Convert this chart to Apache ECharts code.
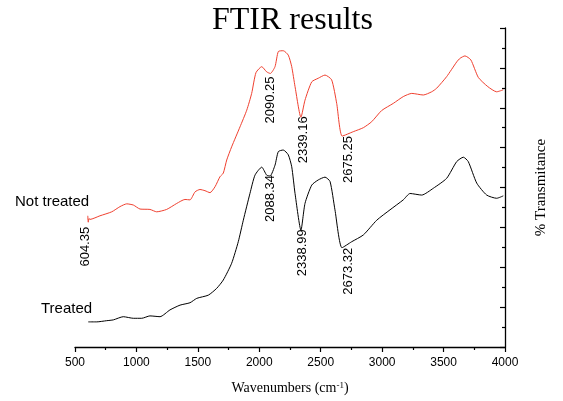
<!DOCTYPE html>
<html>
<head>
<meta charset="utf-8">
<title>FTIR results</title>
<script src="https://cdn.jsdelivr.net/npm/echarts@6/dist/echarts.min.js"></script>
<style>
  html, body { margin: 0; padding: 0; background: #fff; }
  #ftir_chart { width: 563px; height: 401px; }
</style>
</head>
<body>
<div id="ftir_chart"></div>
<script>
// 横轴刻度 (cm-1)
var xTicks = [500, 1000, 1500, 2000, 2500, 3000, 3500, 4000];

// 未处理样品 [波数, 透过率]
var notTreated = [
  [604, 32.9], [608, 31.3], [614, 32.2], [622, 32.0], [703, 32.9], [799, 33.9],
  [866, 35.2], [921, 35.9], [975, 35.6], [1029, 34.6], [1110, 34.5], [1165, 33.9],
  [1246, 34.5], [1328, 36.0], [1395, 37.0], [1436, 36.9], [1477, 38.9], [1517, 39.5],
  [1558, 39.2], [1599, 38.7], [1640, 40.2], [1680, 42.7], [1707, 43.6], [1735, 46.9],
  [1775, 50.2], [1843, 55.2], [1898, 59.4], [1938, 63.6], [1973, 68.8], [2020, 70.3],
  [2060, 69.0], [2090, 68.6], [2128, 70.3], [2155, 74.1], [2195, 74.3], [2236, 73.2],
  [2264, 70.3], [2291, 65.3], [2339, 57.6], [2372, 61.9], [2427, 66.5], [2480, 67.4],
  [2535, 68.2], [2589, 67.0], [2630, 61.1], [2675, 52.9], [2765, 54.0], [2847, 55.0],
  [2915, 56.5], [2996, 59.3], [3091, 61.1], [3172, 62.8], [3241, 63.6], [3335, 63.2],
  [3403, 64.0], [3444, 64.9], [3525, 67.8], [3607, 71.5], [3634, 72.4], [3674, 73.0],
  [3722, 72.0], [3783, 67.6], [3860, 65.3], [3932, 64.0], [3986, 64.5]
];

// 处理后样品
var treated = [
  [608, 6.3], [677, 6.3], [758, 6.6], [812, 6.8], [893, 7.6], [975, 7.2],
  [1043, 7.2], [1110, 7.8], [1192, 7.6], [1273, 9.3], [1355, 10.5], [1436, 11.1],
  [1491, 12.2], [1585, 13.0], [1653, 14.7], [1707, 16.8], [1775, 21.0], [1829, 26.4],
  [1870, 31.8], [1924, 38.5], [1965, 43.1], [2020, 45.1], [2060, 43.1], [2088, 42.9],
  [2128, 45.6], [2155, 49.0], [2195, 49.4], [2236, 48.2], [2264, 45.2], [2291, 38.5],
  [2339, 29.3], [2372, 36.0], [2427, 40.6], [2480, 41.9], [2535, 42.6], [2576, 41.5],
  [2616, 34.4], [2673, 24.9], [2752, 26.4], [2847, 28.1], [2956, 31.8], [3064, 34.4],
  [3172, 36.9], [3227, 38.5], [3322, 38.1], [3416, 39.8], [3525, 42.3], [3607, 46.5],
  [3661, 47.6], [3701, 46.5], [3770, 41.1], [3851, 38.1], [3932, 37.3], [3986, 37.9]
];

// 峰位标注
var notTreatedPeaks = [604.35, 2090.25, 2339.16, 2675.25];
var treatedPeaks = [2088.34, 2338.99, 2673.32];

// 标注文字相对峰位的偏移 px
var notTreatedOffsets = [[-2, 11], [0, 3], [2, -1], [6, 0]];
var treatedOffsets = [[0, -1], [1, -1], [6, 0]];

function nearestY(data, x) {
  var best = data[0];
  for (var i = 0; i < data.length; i++) {
    if (Math.abs(data[i][0] - x) < Math.abs(best[0] - x)) best = data[i];
  }
  return best[1];
}

function peakMarks(data, peaks, offsets) {
  return peaks.map(function (p, i) {
    return {
      name: p.toFixed(2),
      coord: [p, nearestY(data, p)],
      label: { position: offsets[i] }
    };
  });
}

function markPointOf(data, peaks, offsets) {
  return {
    symbol: "circle",
    symbolSize: 0,
    silent: true,
    itemStyle: { color: "transparent" },
    label: {
      show: true,
      formatter: "{b}",
      rotate: 90,
      align: "right",
      verticalAlign: "middle",
      color: "#000",
      fontFamily: "Liberation Sans",
      fontSize: 13
    },
    data: peakMarks(data, peaks, offsets)
  };
}

var chart = echarts.init(document.getElementById("ftir_chart"));

chart.setOption({
  animation: false,
  backgroundColor: "#fff",
  title: {
    text: "FTIR results",
    left: 212,
    top: 5,
    padding: 0,
    textStyle: {
      fontFamily: "Liberation Serif",
      fontSize: 32,
      fontWeight: "normal",
      color: "#000"
    }
  },
  grid: { left: 75, right: 58, top: 28, bottom: 54, outerBoundsMode: "none" },
  xAxis: {
    type: "value",
    min: xTicks[0],
    max: xTicks[xTicks.length - 1],
    interval: 500,
    name: "Wavenumbers (cm{sup|-1})",
    nameLocation: "middle",
    nameGap: 34,
    nameTextStyle: {
      fontFamily: "Liberation Serif",
      fontSize: 14,
      color: "#000",
      rich: {
        sup: { fontFamily: "Liberation Serif", fontSize: 9, verticalAlign: "top", color: "#000" }
      }
    },
    axisLine: { show: true, onZero: false, lineStyle: { color: "#000", width: 1.3 } },
    axisTick: { show: true, length: 5, lineStyle: { color: "#000", width: 1.2 } },
    minorTick: { show: true, splitNumber: 2, length: 3, lineStyle: { color: "#000", width: 1.2 } },
    axisLabel: {
      margin: 10,
      color: "#000",
      fontFamily: "Liberation Sans",
      fontSize: 12,
      formatter: function (v) {
        return xTicks.indexOf(v) >= 0 ? String(v) : "";
      }
    },
    splitLine: { show: false }
  },
  yAxis: {
    type: "value",
    position: "right",
    min: 0,
    max: 80,
    interval: 10,
    name: "% Transmitance",
    nameLocation: "middle",
    nameRotate: 90,
    nameGap: 29,
    nameTextStyle: { fontFamily: "Liberation Serif", fontSize: 15, color: "#000" },
    axisLine: { show: true, lineStyle: { color: "#000", width: 1.3 } },
    axisTick: { show: true, inside: true, length: 5, lineStyle: { color: "#000", width: 1.2 } },
    minorTick: { show: true, splitNumber: 2, length: 3, lineStyle: { color: "#000", width: 1.2 } },
    axisLabel: { show: false },
    splitLine: { show: false }
  },
  graphic: [
    {
      type: "text",
      left: 15,
      top: 194,
      style: { text: "Not treated", fill: "#000", font: "15px 'Liberation Sans'" }
    },
    {
      type: "text",
      left: 41,
      top: 301,
      style: { text: "Treated", fill: "#000", font: "15px 'Liberation Sans'" }
    }
  ],
  series: [
    {
      name: "Not treated",
      type: "line",
      data: notTreated,
      showSymbol: false,
      smooth: 0.2,
      lineStyle: { color: "#f0402f", width: 1 },
      itemStyle: { color: "#f0402f" },
      markPoint: markPointOf(notTreated, notTreatedPeaks, notTreatedOffsets)
    },
    {
      name: "Treated",
      type: "line",
      data: treated,
      showSymbol: false,
      smooth: 0.2,
      lineStyle: { color: "#000", width: 1 },
      itemStyle: { color: "#000" },
      markPoint: markPointOf(treated, treatedPeaks, treatedOffsets)
    }
  ]
});
</script>
</body>
</html>
